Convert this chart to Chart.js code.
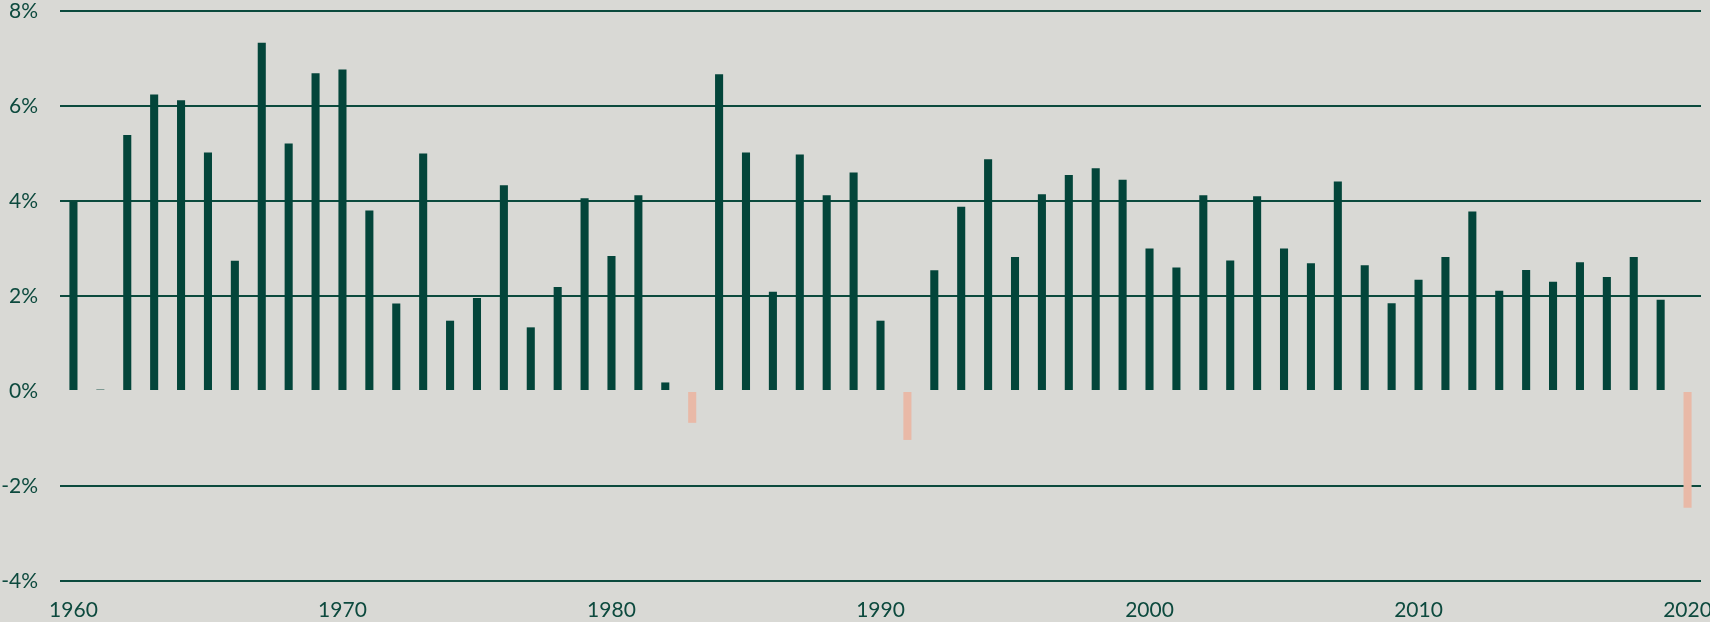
<!DOCTYPE html>
<html>
<head>
<meta charset="utf-8">
<script src="https://cdn.jsdelivr.net/npm/chart.js@4.4.1/dist/chart.umd.min.js"></script>
<style>
  html, body { margin: 0; padding: 0; background: #d9d9d5; }
  #wrap { width: 1710px; height: 622px; }
</style>
</head>
<body>
<div id="wrap"><canvas id="c" width="1710" height="622"></canvas></div>
<script>
const years = [];
for (let y = 1960; y <= 2020; y++) years.push(String(y));

const growth = [
  3.99, 0.03, 5.39, 6.24, 6.12, 5.02, 2.74, 7.33, 5.21, 6.69,
  6.77, 3.80, 1.84, 5.00, 1.48, 1.96, 4.33, 1.34, 2.19, 4.06,
  2.84, 4.12, 0.18, -0.67, 6.67, 5.02, 2.09, 4.98, 4.12, 4.60,
  1.48, -1.03, 2.54, 3.88, 4.88, 2.82, 4.14, 4.55, 4.69, 4.45,
  3.00, 2.60, 4.12, 2.75, 4.10, 3.00, 2.69, 4.41, 2.65, 1.85,
  2.34, 2.82, 3.78, 2.11, 2.55, 2.30, 2.71, 2.40, 2.82, 1.92,
  -2.46
];

const yTicks = [-4, -2, 0, 2, 4, 6, 8];

const GREEN = '#03453a';
const PINK = '#e9b9a7';
const TEXT = '#0d4a3e';

new Chart(document.getElementById('c'), {
  type: 'bar',
  data: {
    labels: years,
    datasets: [{
      data: growth,
      backgroundColor: growth.map(v => v < 0 ? PINK : GREEN),
      borderWidth: 0,
      barPercentage: 0.3,
      categoryPercentage: 1.0
    }]
  },
  options: {
    responsive: false,
    animation: false,
    devicePixelRatio: 1,
    layout: { padding: { top: 11, right: 9, bottom: 0, left: 0 } },
    plugins: { legend: { display: false }, tooltip: { enabled: false } },
    scales: {
      x: {
        offset: true,
        grid: { display: false, drawTicks: false },
        border: { display: false },
        ticks: {
          autoSkip: false,
          maxRotation: 0,
          minRotation: 0,
          padding: 17,
          color: TEXT,
          font: { family: 'Lato, "Open Sans", sans-serif', size: 21 },
          callback: function (val) {
            const l = this.getLabelForValue(val);
            return (Number(l) % 10 === 0) ? l : '';
          }
        },
        afterFit: (s) => { s.height = 41; s.paddingLeft = 0; s.paddingRight = 0; }
      },
      y: {
        min: yTicks[0],
        max: yTicks[yTicks.length - 1],
        afterBuildTicks: (s) => { s.ticks = yTicks.map(v => ({ value: v })); },
        grid: {
          drawTicks: false,
          lineWidth: 2,
          color: (ctx) => (ctx.tick && ctx.tick.value === 0) ? 'rgba(0,0,0,0)' : '#0b4a3d'
        },
        border: { display: false },
        ticks: {
          padding: 22,
          color: TEXT,
          font: { family: 'Lato, "Open Sans", sans-serif', size: 21 },
          callback: (v) => v + '%'
        },
        afterFit: (s) => { s.width = 60; s.paddingTop = 0; s.paddingBottom = 0; }
      }
    }
  }
});
</script>
</body>
</html>
